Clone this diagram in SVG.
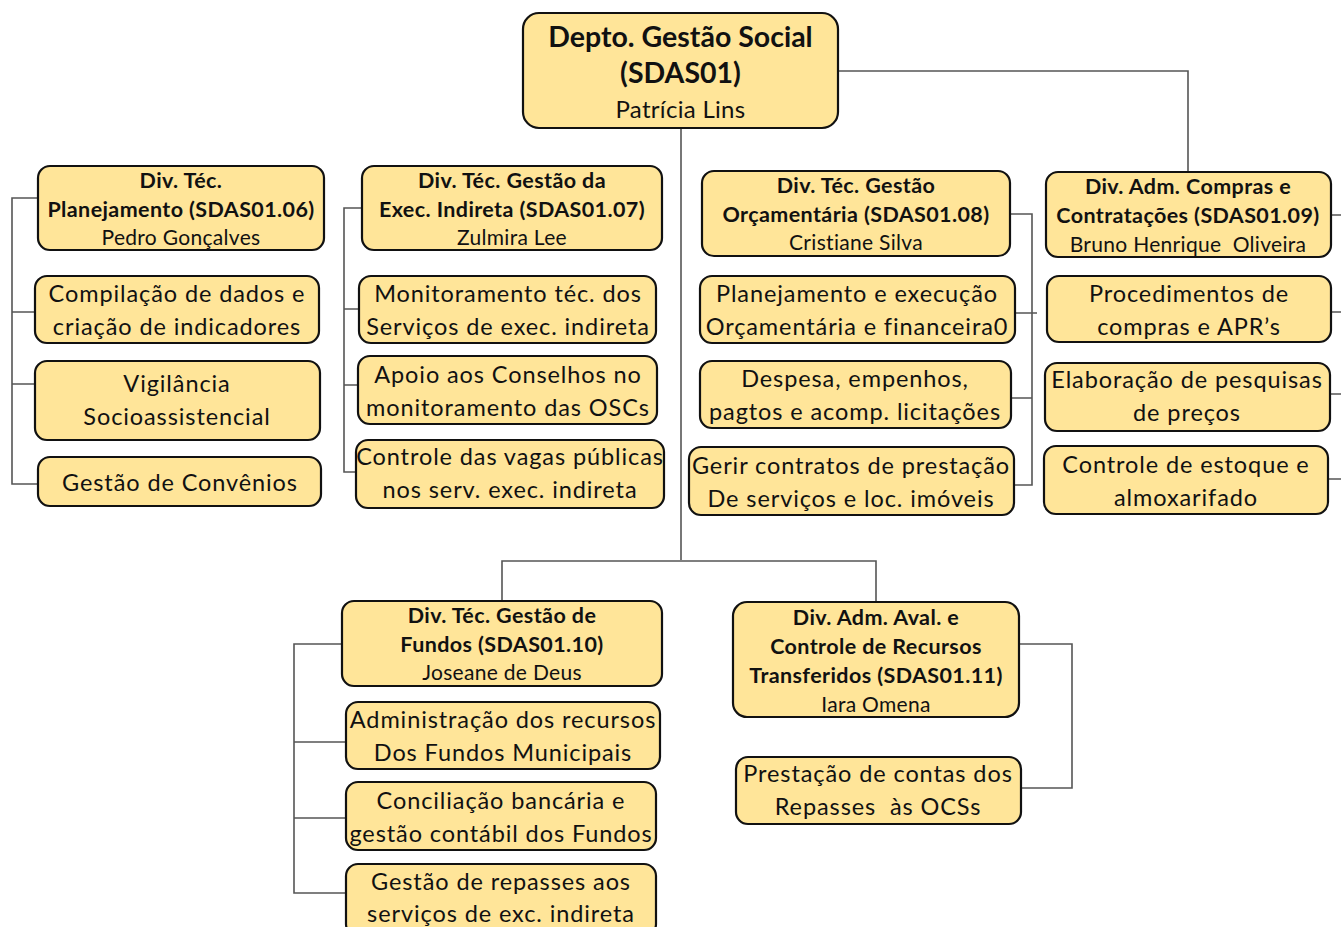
<svg xmlns="http://www.w3.org/2000/svg" width="1341" height="927" viewBox="0 0 1341 927">
<style>
  .box { fill: #FFE599; stroke: #111; stroke-width: 2.2; }
  .t { font-family: Lato, "Liberation Sans", sans-serif; fill: #111; text-anchor: middle; }
  .h { font-weight: bold; font-size: 21.5px; letter-spacing: 0.4px; }
  .n { font-size: 21px; letter-spacing: 0.3px; }
  .i { font-size: 23.5px; letter-spacing: 0.9px; }
  .big { font-weight: bold; font-size: 28.5px; }
  .conn path { fill: none; stroke: #555; stroke-width: 1.6; }
</style>
<rect width="1341" height="927" fill="#fff"/>

<g class="conn">
  <!-- department to its divisions -->
  <path d="M838 71 H1188 V172"/>
  <path d="M681 128 V560"/>
  <path d="M502 600 V561 H876 V602"/>
  <!-- planejamento bracket -->
  <path d="M38 198 H12 V484 H38 M12 312 H35 M12 384 H35"/>
  <!-- exec indireta bracket -->
  <path d="M362 208 H344 V472 H356 M344 309 H359 M344 385 H358"/>
  <!-- orcamentaria bracket -->
  <path d="M1010 214 H1032 V485 H1014 M1015 313 H1037 M1011 398 H1032"/>
  <!-- compras: stubs to the right edge -->
  <path d="M1331 215 H1341 M1331 312 H1341 M1330 394 H1341 M1328 479 H1341"/>
  <!-- fundos bracket -->
  <path d="M342 644 H294 V893 H346 M294 742 H346 M294 818 H346"/>
  <!-- aval bracket -->
  <path d="M1019 644 H1072 V788 H1021"/>
</g>

<g id="n-sdas01">
  <rect class="box" x="523" y="13" width="315" height="115" rx="16"/>
  <text class="t big" x="680.5" y="47">Depto. Gestão Social</text>
  <text class="t big" x="680.5" y="83">(SDAS01)</text>
  <text class="t" x="680.5" y="118" font-size="24" letter-spacing="0.3">Patrícia Lins</text>
</g>

<g id="n-sdas0106">
  <rect class="box" x="38" y="166" width="286" height="84" rx="12"/>
  <text class="t h" x="181" y="188">Div. Téc.</text>
  <text class="t h" x="181" y="217">Planejamento (SDAS01.06)</text>
  <text class="t n" x="181" y="245">Pedro Gonçalves</text>
</g>
<g id="n-compilacao">
  <rect class="box" x="35" y="276" width="284" height="67" rx="12"/>
  <text class="t i" x="177" y="302">Compilação de dados e</text>
  <text class="t i" x="177" y="335">criação de indicadores</text>
</g>
<g id="n-vigilancia">
  <rect class="box" x="35" y="361" width="285" height="79" rx="12"/>
  <text class="t i" x="177" y="392">Vigilância</text>
  <text class="t i" x="177" y="425">Socioassistencial</text>
</g>
<g id="n-convenios">
  <rect class="box" x="38" y="457" width="283" height="49" rx="12"/>
  <text class="t i" x="180" y="491">Gestão de Convênios</text>
</g>

<g id="n-sdas0107">
  <rect class="box" x="362" y="166" width="300" height="84" rx="12"/>
  <text class="t h" x="512" y="188">Div. Téc. Gestão da</text>
  <text class="t h" x="512" y="217">Exec. Indireta (SDAS01.07)</text>
  <text class="t n" x="512" y="245">Zulmira Lee</text>
</g>
<g id="n-monitoramento">
  <rect class="box" x="359" y="276" width="297" height="67" rx="12"/>
  <text class="t i" x="508" y="302">Monitoramento téc. dos</text>
  <text class="t i" x="508" y="335">Serviços de exec. indireta</text>
</g>
<g id="n-apoio">
  <rect class="box" x="358" y="356" width="299" height="68" rx="12"/>
  <text class="t i" x="508" y="383">Apoio aos Conselhos no</text>
  <text class="t i" x="508" y="416">monitoramento das OSCs</text>
</g>
<g id="n-vagas">
  <rect class="box" x="356" y="440" width="308" height="68" rx="12"/>
  <text class="t i" x="510" y="465">Controle das vagas públicas</text>
  <text class="t i" x="510" y="498">nos serv. exec. indireta</text>
</g>

<g id="n-sdas0108">
  <rect class="box" x="702" y="171" width="308" height="85" rx="12"/>
  <text class="t h" x="856" y="193">Div. Téc. Gestão</text>
  <text class="t h" x="856" y="222">Orçamentária (SDAS01.08)</text>
  <text class="t n" x="856" y="250">Cristiane Silva</text>
</g>
<g id="n-planexec">
  <rect class="box" x="700" y="276" width="315" height="67" rx="12"/>
  <text class="t i" x="857" y="302">Planejamento e execução</text>
  <text class="t i" x="857" y="335">Orçamentária e financeira0</text>
</g>
<g id="n-despesa">
  <rect class="box" x="700" y="361" width="311" height="67" rx="12"/>
  <text class="t i" x="855" y="387">Despesa, empenhos,</text>
  <text class="t i" x="855" y="420">pagtos e acomp. licitações</text>
</g>
<g id="n-contratos">
  <rect class="box" x="689" y="447" width="325" height="68" rx="12"/>
  <text class="t i" x="851" y="474">Gerir contratos de prestação</text>
  <text class="t i" x="851" y="507">De serviços e loc. imóveis</text>
</g>

<g id="n-sdas0109">
  <rect class="box" x="1046" y="172" width="285" height="85" rx="12"/>
  <text class="t h" x="1188" y="194">Div. Adm. Compras e</text>
  <text class="t h" x="1188" y="223">Contratações (SDAS01.09)</text>
  <text class="t n" x="1188" y="252" xml:space="preserve">Bruno Henrique  Oliveira</text>
</g>
<g id="n-procedimentos">
  <rect class="box" x="1047" y="276" width="284" height="66" rx="12"/>
  <text class="t i" x="1189" y="302">Procedimentos de</text>
  <text class="t i" x="1189" y="335">compras e APR’s</text>
</g>
<g id="n-pesquisas">
  <rect class="box" x="1045" y="363" width="285" height="68" rx="12"/>
  <text class="t i" x="1187" y="388">Elaboração de pesquisas</text>
  <text class="t i" x="1187" y="421">de preços</text>
</g>
<g id="n-estoque">
  <rect class="box" x="1044" y="446" width="284" height="68" rx="12"/>
  <text class="t i" x="1186" y="473">Controle de estoque e</text>
  <text class="t i" x="1186" y="506">almoxarifado</text>
</g>

<g id="n-sdas0110">
  <rect class="box" x="342" y="601" width="320" height="85" rx="12"/>
  <text class="t h" x="502" y="623">Div. Téc. Gestão de</text>
  <text class="t h" x="502" y="652">Fundos (SDAS01.10)</text>
  <text class="t n" x="502" y="680">Joseane de Deus</text>
</g>
<g id="n-administracao">
  <rect class="box" x="346" y="702" width="314" height="67" rx="12"/>
  <text class="t i" x="503" y="728">Administração dos recursos</text>
  <text class="t i" x="503" y="761">Dos Fundos Municipais</text>
</g>
<g id="n-conciliacao">
  <rect class="box" x="346" y="782" width="310" height="68" rx="12"/>
  <text class="t i" x="501" y="809">Conciliação bancária e</text>
  <text class="t i" x="501" y="842">gestão contábil dos Fundos</text>
</g>
<g id="n-repasses">
  <rect class="box" x="346" y="864" width="310" height="72" rx="12"/>
  <text class="t i" x="501" y="890">Gestão de repasses aos</text>
  <text class="t i" x="501" y="922">serviços de exc. indireta</text>
</g>

<g id="n-sdas0111">
  <rect class="box" x="733" y="602" width="286" height="115" rx="14"/>
  <text class="t h" x="876" y="625">Div. Adm. Aval. e</text>
  <text class="t h" x="876" y="654">Controle de Recursos</text>
  <text class="t h" x="876" y="683">Transferidos (SDAS01.11)</text>
  <text class="t n" x="876" y="712">Iara Omena</text>
</g>
<g id="n-prestacao">
  <rect class="box" x="736" y="757" width="285" height="67" rx="12"/>
  <text class="t i" x="878" y="782">Prestação de contas dos</text>
  <text class="t i" x="878" y="815" xml:space="preserve">Repasses  às OCSs</text>
</g>
</svg>
